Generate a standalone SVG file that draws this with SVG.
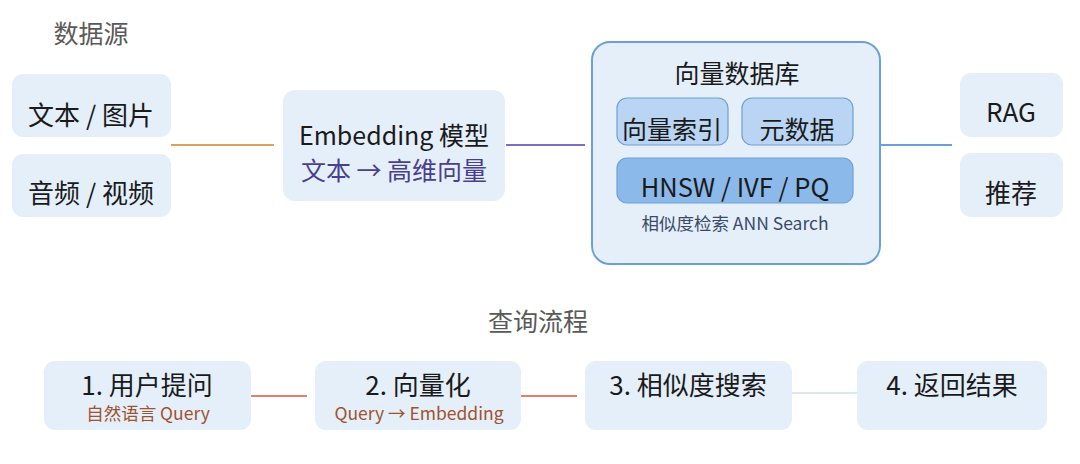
<svg xmlns="http://www.w3.org/2000/svg" width="1080" height="464" viewBox="0 0 1080 464">
<style>
text{font-family:"Noto Sans CJK SC","Noto Sans",sans-serif;text-anchor:middle}
.sec{font-size:25px;fill:#595959}
.t{font-size:26px;fill:#1a1a1a}
.e{font-size:25px;fill:#1a1a1a}
.m{font-size:25px;fill:#1a1a1a}
.sub{font-size:17.5px;fill:#A0522D}
.box{fill:#E5EFFA}
.inner{fill:#B9D5F3;stroke:#6E9FD6;stroke-width:1.2}
.inner2{fill:#8BB9EA;stroke:#6E9FD6;stroke-width:1.2}
.ln{fill:none;stroke-width:2}
</style>
<rect width="1080" height="464" fill="#ffffff"/>
<text class="sec" x="91" y="43">数据源</text>
<text class="sec" x="538" y="331">查询流程</text>
<g id="connectors">
<line class="ln" x1="171" y1="145" x2="274" y2="145" stroke="#D9A35F"/>
<line class="ln" x1="506" y1="145" x2="585" y2="145" stroke="#7A6FC2"/>
<line class="ln" x1="880" y1="145" x2="952" y2="145" stroke="#6A9FD8"/>
<line class="ln" x1="251" y1="396" x2="307" y2="396" stroke="#E08466"/>
<line class="ln" x1="521" y1="396" x2="577" y2="396" stroke="#E08466"/>
<line class="ln" x1="792" y1="393" x2="857" y2="393" stroke="#DCE6F2"/>
</g>
<g id="src-text">
<rect class="box" x="12" y="74" width="159" height="63" rx="11"/>
<text class="t" x="91" y="125">文本 / 图片</text>
</g>
<g id="src-av">
<rect class="box" x="12" y="154" width="159" height="63" rx="11"/>
<text class="t" x="91" y="203">音频 / 视频</text>
</g>
<g id="embedding">
<rect class="box" x="283" y="90" width="222" height="111" rx="12"/>
<text class="e" x="394" y="145">Embedding 模型</text>
<text class="e" x="394" y="180" style="fill:#4A3F8E">文本 → 高维向量</text>
</g>
<g id="vectordb">
<rect x="592" y="42" width="288" height="222" rx="18" fill="#E5EFFA" stroke="#6A9FD8" stroke-width="2"/>
<text class="m" x="737" y="83">向量数据库</text>
<rect class="inner" x="617" y="98" width="111" height="47" rx="10"/>
<text class="m" x="672" y="139">向量索引</text>
<rect class="inner" x="742" y="98" width="111" height="47" rx="10"/>
<text class="m" x="797" y="139">元数据</text>
<rect class="inner2" x="617" y="158" width="236" height="45" rx="10"/>
<text x="735" y="197" style="font-size:25.5px;fill:#1a1a1a">HNSW / IVF / PQ</text>
<text x="735" y="229.5" style="font-size:17.5px;fill:#3A4A66">相似度检索 ANN Search</text>
</g>
<g id="rag">
<rect class="box" x="960" y="73" width="103" height="64" rx="11"/>
<text class="t" x="1011" y="122">RAG</text>
</g>
<g id="recommend">
<rect class="box" x="960" y="153" width="103" height="64" rx="11"/>
<text class="t" x="1011" y="203">推荐</text>
</g>
<g id="step1">
<rect class="box" x="44" y="361" width="207" height="69" rx="11"/>
<text class="t" x="147" y="395">1. 用户提问</text>
<text class="sub" x="148" y="420">自然语言 Query</text>
</g>
<g id="step2">
<rect class="box" x="315" y="361" width="206" height="69" rx="11"/>
<text class="t" x="418" y="395">2. 向量化</text>
<text class="sub" x="419" y="420">Query → Embedding</text>
</g>
<g id="step3">
<rect class="box" x="585" y="361" width="207" height="69" rx="11"/>
<text class="t" x="688" y="395">3. 相似度搜索</text>
</g>
<g id="step4">
<rect class="box" x="857" y="361" width="190" height="69" rx="11"/>
<text class="t" x="952" y="395">4. 返回结果</text>
</g>
</svg>
